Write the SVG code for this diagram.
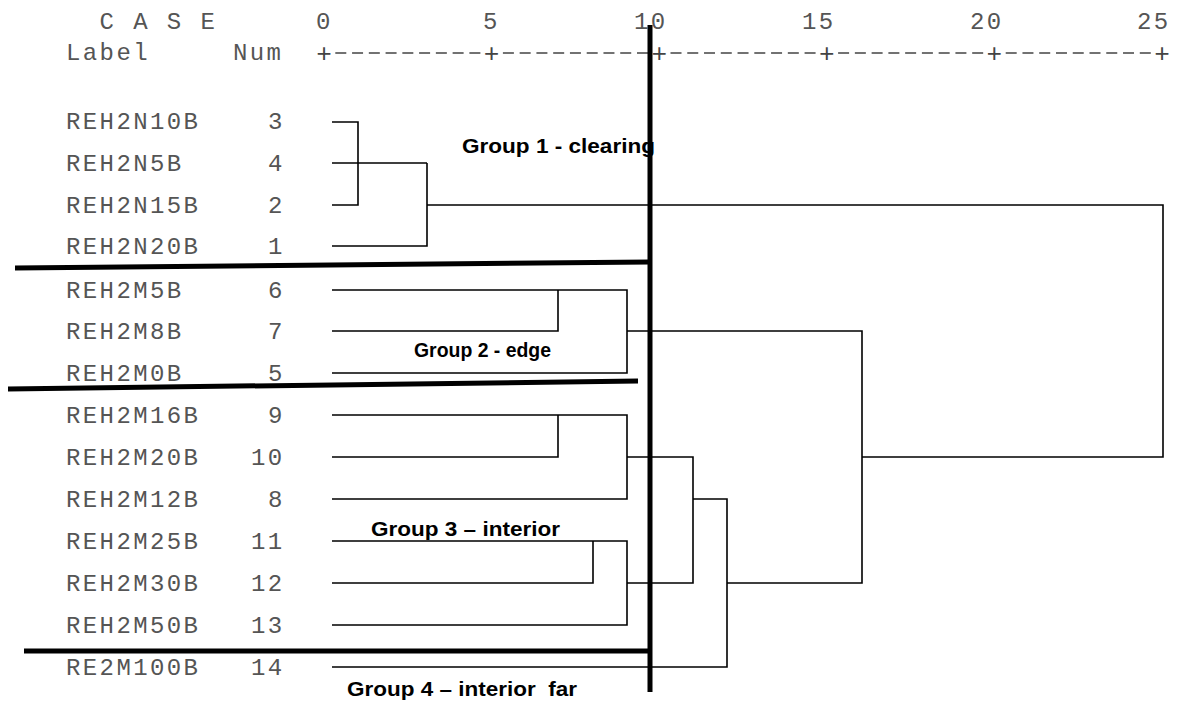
<svg xmlns="http://www.w3.org/2000/svg" width="1181" height="704" viewBox="0 0 1181 704">
<style>
.m{font-family:"Liberation Mono","Courier New",monospace;font-size:24px;letter-spacing:2.4px;fill:#555}
.p{font-family:"Liberation Mono","Courier New",monospace;font-size:26px;fill:#444;text-anchor:middle}
.g{font-family:"Liberation Sans",Arial,sans-serif;font-size:21px;font-weight:bold;fill:#000;white-space:pre}
.d{fill:none;stroke:#000;stroke-width:1.6}
.k{fill:none;stroke:#000;stroke-width:5}
.r{fill:none;stroke:#444;stroke-width:1.6;stroke-dasharray:11 5.76 11 5.76 11 5.76 11 5.76 11 5.76 11 5.76 11 5.76 11 5.76 11 22.52}
</style>
<rect width="1181" height="704" fill="#fff"/>
<g id="axis">
<text class="m" x="99.6" y="29">C A S E</text>
<text class="m" x="316" y="29">0</text>
<text class="m" x="483" y="29">5</text>
<text class="m" x="634" y="29">10</text>
<text class="m" x="802" y="29">15</text>
<text class="m" x="970" y="29">20</text>
<text class="m" x="1137" y="29">25</text>
<text class="m" x="66" y="60">Label</text>
<text class="m" x="233" y="60">Num</text>
<path class="r" d="M335.3 53H1157"/>
<text class="p" x="324" y="62">+</text>
<text class="p" x="491.6" y="62">+</text>
<text class="p" x="659.2" y="62">+</text>
<text class="p" x="826.8" y="62">+</text>
<text class="p" x="994.4" y="62">+</text>
<text class="p" x="1162" y="62">+</text>
</g>
<g id="labels">
<text class="m" x="66" y="129">REH2N10B</text><text class="m" x="268" y="129">3</text>
<text class="m" x="66" y="171">REH2N5B</text><text class="m" x="268" y="171">4</text>
<text class="m" x="66" y="213">REH2N15B</text><text class="m" x="268" y="213">2</text>
<text class="m" x="66" y="254">REH2N20B</text><text class="m" x="268" y="254">1</text>
<text class="m" x="66" y="298">REH2M5B</text><text class="m" x="268" y="298">6</text>
<text class="m" x="66" y="339">REH2M8B</text><text class="m" x="268" y="339">7</text>
<text class="m" x="66" y="381">REH2M0B</text><text class="m" x="268" y="381">5</text>
<text class="m" x="66" y="423">REH2M16B</text><text class="m" x="268" y="423">9</text>
<text class="m" x="66" y="465">REH2M20B</text><text class="m" x="251" y="465">10</text>
<text class="m" x="66" y="507">REH2M12B</text><text class="m" x="268" y="507">8</text>
<text class="m" x="66" y="549">REH2M25B</text><text class="m" x="251" y="549">11</text>
<text class="m" x="66" y="591">REH2M30B</text><text class="m" x="251" y="591">12</text>
<text class="m" x="66" y="633">REH2M50B</text><text class="m" x="251" y="633">13</text>
<text class="m" x="66" y="675">RE2M100B</text><text class="m" x="251" y="675">14</text>
</g>
<g id="connectors">
<path class="d" d="M332 122H358V205H332M332 163H427M332 246H427V163M427 205H1163V457H862"/>
<path class="d" d="M332 290H627V373H332M332 331H558V290M627 331H862V583H727"/>
<path class="d" d="M332 415H627V499H332M332 457H558V415M627 457H693V583H627M332 541H627V625H332M332 583H593V541M693 499H727V667H332"/>
</g>
<g id="cutlines">
<path class="k" d="M650 25V692"/>
<path class="k" d="M15 268L650 262"/>
<path class="k" d="M8 389L638 381"/>
<path class="k" d="M24 651H650"/>
</g>
<g id="groups">
<text class="g" x="462" y="153" textLength="193" lengthAdjust="spacingAndGlyphs">Group 1 - clearing</text>
<text class="g" x="414" y="357" textLength="137" lengthAdjust="spacingAndGlyphs">Group 2 - edge</text>
<text class="g" x="371" y="536" textLength="189" lengthAdjust="spacingAndGlyphs">Group 3 – interior</text>
<text class="g" x="347" y="696" textLength="230" lengthAdjust="spacingAndGlyphs">Group 4 – interior  far</text>
</g>
</svg>
